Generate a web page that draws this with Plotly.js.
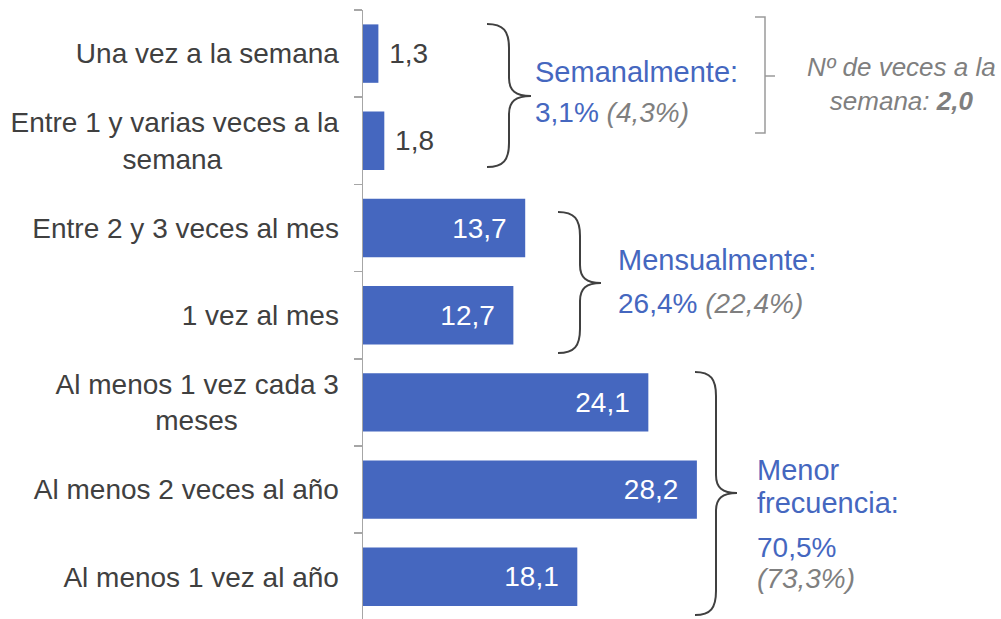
<!DOCTYPE html>
<html>
<head>
<meta charset="utf-8">
<script src="https://cdn.plot.ly/plotly-3.0.1.min.js"></script>
<style>html,body{margin:0;padding:0;background:#fff;}#chart{width:1001px;height:619px;}</style>
</head>
<body>
<div id="chart"></div>
<script>
// ---- data ----
const categories = ["Una vez a la semana", "Entre 1 y varias veces a la semana", "Entre 2 y 3 veces al mes", "1 vez al mes", "Al menos 1 vez cada 3 meses", "Al menos 2 veces al año", "Al menos 1 vez al año"];
const tickLabels = ["Una vez a la semana", "Entre 1 y varias veces a la<br>semana", "Entre 2 y 3 veces al mes", "1 vez al mes", "Al menos 1 vez cada 3<br>meses", "Al menos 2 veces al año", "Al menos 1 vez al año"];
const values = [1.3, 1.8, 13.7, 12.7, 24.1, 28.2, 18.1];
const groupNames = ["Semanalmente:", "Mensualmente:", "Menor<br>frecuencia:"];
const groupShares = ["3,1%", "26,4%", "70,5%"];
const groupPrevious = ["(4,3%)", "(22,4%)", "(73,3%)"];
const weeklyNote = "Nº de veces a la<br>semana: ";
const weeklyValue = "2,0";

// ---- styling ----
const FONT = '"Liberation Sans", Arial, sans-serif';
const BLUE = '#4567BF';
const DARK = '#404040';
const GRAY = '#7f7f7f';
const W = 1001, H = 619, ML = 363, MR = 0, MT = 10, MB = 0;
const PW = W - ML - MR, PH = H - MT - MB;
const PX_PER_UNIT = 11.84, ROW = 87.2;
const X = px => (px - ML) / PW;
const Y = py => (H - MB - py) / PH;
const NB = '\u00a0';

// centre multi-line tick labels by padding shorter lines with nbsp
const ctx = document.createElement('canvas').getContext('2d');
ctx.font = '28px "Liberation Sans"';
const nbw = ctx.measureText(NB).width || 7.78;
function centreLines(lbl) {
  const lines = lbl.split('<br>');
  if (lines.length < 2) return lbl;
  const widths = lines.map(l => ctx.measureText(l).width);
  const maxW = Math.max(...widths);
  return lines.map((l, i) => l + NB.repeat(Math.round((maxW - widths[i]) / 2 / nbw))).join('<br>');
}
const tickText = tickLabels.map(centreLines);

const fmt = v => v.toFixed(1).replace('.', ',');
const texts = values.map(fmt);
const isOutside = values.map(v => v < 5);

const trace = {
  type: 'bar', orientation: 'h',
  y: categories, x: values,
  marker: {color: BLUE},
  text: texts,
  texttemplate: isOutside.map(o => o ? NB + '%{text}' : '%{text}' + NB + NB),
  textposition: isOutside.map(o => o ? 'outside' : 'inside'),
  insidetextanchor: 'end',
  constraintext: 'none',
  cliponaxis: false,
  insidetextfont: {family: FONT, size: 28, color: '#ffffff'},
  outsidetextfont: {family: FONT, size: 28, color: DARK},
  hoverinfo: 'skip'
};

function brace(x0, x1, x2, yt, ym, yb) {
  const r = 24, m = 18;
  const p = (x, y) => X(x) + ',' + Y(y);
  return 'M' + p(x0, yt) +
    ' C' + p(x0 + (x1 - x0) * 0.75, yt) + ' ' + p(x1, yt + r * 0.3) + ' ' + p(x1, yt + r) +
    ' L' + p(x1, ym - m) +
    ' C' + p(x1, ym - m * 0.3) + ' ' + p(x1 + (x2 - x1) * 0.3, ym) + ' ' + p(x2, ym) +
    ' C' + p(x1 + (x2 - x1) * 0.3, ym) + ' ' + p(x1, ym + m * 0.3) + ' ' + p(x1, ym + m) +
    ' L' + p(x1, yb - r) +
    ' C' + p(x1, yb - r * 0.3) + ' ' + p(x0 + (x1 - x0) * 0.75, yb) + ' ' + p(x0, yb);
}
const p = (x, y) => X(x) + ',' + Y(y);
const shapes = [
  {type: 'path', xref: 'paper', yref: 'paper', path: brace(487, 509, 531, 24, 96, 167), line: {color: DARK, width: 2}},
  {type: 'path', xref: 'paper', yref: 'paper', path: brace(558, 580, 601, 212, 283, 353), line: {color: DARK, width: 2}},
  {type: 'path', xref: 'paper', yref: 'paper', path: brace(695, 716, 737, 372, 493, 615), line: {color: DARK, width: 2}},
  {type: 'path', xref: 'paper', yref: 'paper', path: 'M' + p(755, 17) + ' L' + p(765, 17) + ' L' + p(765, 133) + ' L' + p(755, 133) + ' M' + p(765, 76) + ' L' + p(775, 76), line: {color: '#9a9a9a', width: 1.5}}
];

function ann(text, px, py, size, color, extra) {
  return Object.assign({xref: 'paper', yref: 'paper', x: X(px), y: Y(py), text: text, showarrow: false,
    xanchor: 'left', yanchor: 'middle', font: {family: FONT, size: size, color: color}, borderpad: 0}, extra || {});
}
const prevSpan = s => '<span style="color:' + GRAY + '"><i>' + s + '</i></span>';
const annotations = [
  ann(groupNames[0], 534, 72, 29, BLUE),
  ann(groupShares[0] + ' ' + prevSpan(groupPrevious[0]), 534, 112, 28, BLUE),
  ann(groupNames[1], 617, 260, 29, BLUE),
  ann(groupShares[1] + ' ' + prevSpan(groupPrevious[1]), 617, 303, 28, BLUE),
  ann(groupNames[2].split('<br>')[0], 756, 470, 29, BLUE),
  ann(groupNames[2].split('<br>')[1], 756, 503, 29, BLUE),
  ann(groupShares[2], 756, 547, 28, BLUE),
  ann(prevSpan(groupPrevious[2]), 756, 578, 28, GRAY),
  ann('<i>' + weeklyNote + '<b>' + weeklyValue + '</b></i>', 901, 84, 26, GRAY, {xanchor: 'center', align: 'center'})
];

const layout = {
  width: W, height: H,
  margin: {l: ML, r: MR, t: MT, b: MB, pad: 0},
  paper_bgcolor: '#ffffff', plot_bgcolor: '#ffffff',
  showlegend: false,
  bargap: 0.33,
  font: {family: FONT, color: DARK},
  xaxis: {range: [0, PW / PX_PER_UNIT], visible: false, fixedrange: true},
  yaxis: {
    type: 'category', categoryorder: 'array', categoryarray: categories,
    range: [-0.5 + PH / ROW, -0.5],
    tickmode: 'array', tickvals: categories, ticktext: tickText,
    tickson: 'boundaries', ticks: 'outside', ticklen: 8, tickwidth: 1.5, tickcolor: '#a6a6a6',
    showline: true, linecolor: '#a6a6a6', linewidth: 1.5,
    showgrid: false, zeroline: false,
    ticklabelstandoff: 17,
    tickfont: {family: FONT, size: 28, color: DARK},
    fixedrange: true
  },
  shapes: shapes,
  annotations: annotations
};

Plotly.newPlot('chart', [trace], layout, {staticPlot: true, displayModeBar: false});
</script>
</body>
</html>
